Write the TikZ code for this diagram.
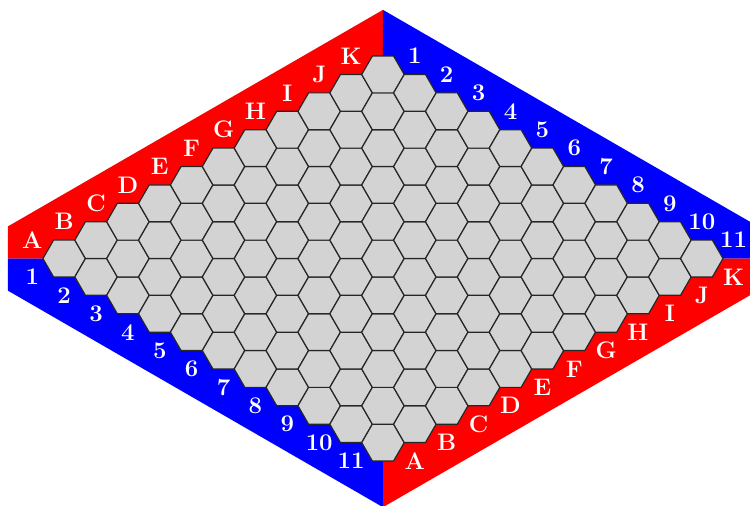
\documentclass[tikz,border=0pt]{standalone}
\usetikzlibrary{shapes.geometric}
\definecolor{cellgray}{RGB}{211,211,211}

\begin{document}
\begin{tikzpicture}[x=0.375cm,y=0.375cm,
  hexcell/.style={regular polygon,regular polygon sides=6,minimum size=0.75cm,inner sep=0pt,outer sep=0pt,
    draw=black!85,line width=0.6pt,fill=cellgray},
  edgelab/.style={text=white,font=\large\bfseries,inner sep=0pt}]
  \useasboundingbox (-18.02,-11.6) rectangle (17.27,12.165);
  % ---------- sides of the two players
  \fill[red]  (-17.65,0) -- (-17.65,1.51) -- (0,11.7) -- (0,0) -- cycle;
  \fill[blue] (0,0) -- (0,11.7) -- (17.65,1.51) -- (17.65,0) -- cycle;
  \fill[red]  (0,0) -- (17.65,0) -- (17.65,-1.51) -- (0,-11.7) -- cycle;
  \fill[blue] (0,0) -- (0,-11.7) -- (-17.65,-1.51) -- (-17.65,0) -- cycle;
  % ---------- board
  \foreach \c in {0,...,10}
    \foreach \r in {0,...,10}
      \node[hexcell] (cell-\c-\r) at ({1.5*(\c+\r)-15},{0.866*(\c-\r)}) {};
  % ---------- letters
  \foreach \l [count=\c from 0] in {A,B,C,D,E,F,G,H,I,J,K} {
    \node[edgelab] (top-\l) at ({1.5*(\c-1)-15},{0.866*(\c+1)}) {\l};
    \node[edgelab] (bot-\l) at ({1.5*(\c+11)-15},{0.866*(\c-11)}) {\l};
  }
  % ---------- numbers
  \foreach \r in {0,...,10} {
    \pgfmathtruncatemacro{\n}{\r+1}
    \node[edgelab] (right-\n) at ({1.5*(11+\r)-15},{0.866*(11-\r)}) {\n};
    \node[edgelab] (left-\n) at ({1.5*(\r-1)-15},{0.866*(-1-\r)}) {\n};
  }
\end{tikzpicture}
\end{document}
